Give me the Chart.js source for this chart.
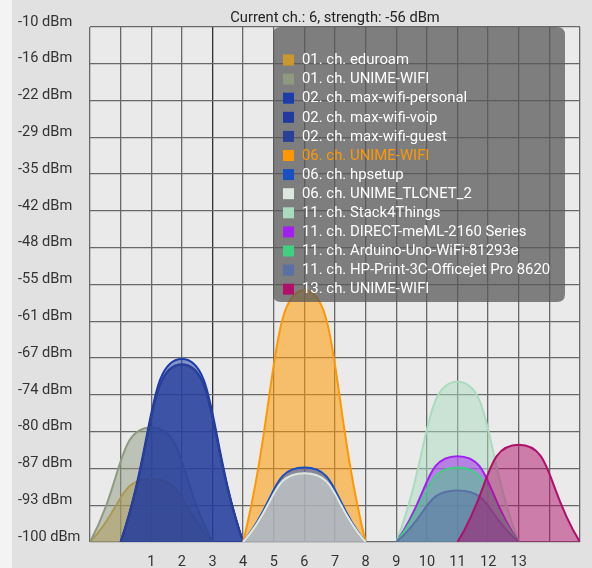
<!DOCTYPE html>
<html><head><meta charset="utf-8">
<script src="https://cdn.jsdelivr.net/npm/chart.js@4/dist/chart.umd.min.js"></script>
<style>html,body{margin:0;padding:0;background:#e2e2e2;overflow:hidden}canvas{display:block}</style>
</head><body>
<canvas id="c" width="592" height="568"></canvas>
<script>
const networkNames = [
  '01. ch. eduroam',
  '01. ch. UNIME-WIFI',
  '02. ch. max-wifi-personal',
  '02. ch. max-wifi-voip',
  '02. ch. max-wifi-guest',
  '06. ch. UNIME-WIFI',
  '06. ch. hpsetup',
  '06. ch. UNIME_TLCNET_2',
  '11. ch. Stack4Things',
  '11. ch. DIRECT-meML-2160 Series',
  '11. ch. Arduino-Uno-WiFi-81293e',
  '11. ch. HP-Print-3C-Officejet Pro 8620',
  '13. ch. UNIME-WIFI'
];
const networkChannels = [1, 1, 2, 2, 2, 6, 6, 6, 11, 11, 11, 11, 13];
const networkStrengths = [-89, -80, -68, -69, -69, -56, -87, -88, -72, -85, -87, -91, -83];
const networkColors = ['#c9972b', '#8d9a80', '#1c3caa', '#1f3aa0', '#2a3f98', '#ff9800',
  '#1a4fc4', '#dfe8df', '#a9dcbf', '#a21ff0', '#3fd080', '#5870a4', '#b0106a'];
const channelLabels = ['1','2','3','4','5','6','7','8','9','10','11','12','13'];
const yTickLabels = ['-100 dBm','-93 dBm','-87 dBm','-80 dBm','-74 dBm','-67 dBm','-61 dBm',
  '-55 dBm','-48 dBm','-42 dBm','-35 dBm','-29 dBm','-22 dBm','-16 dBm','-10 dBm'];
const currentIndex = 5;
const floorDbm = -100, ceilDbm = -10;
const chMin = -1, chMax = 15, spread = 2;

function alpha(hex, a) {
  const n = parseInt(hex.slice(1), 16);
  return `rgba(${n >> 16},${(n >> 8) & 255},${n & 255},${a})`;
}

const datasets = networkNames.map((name, i) => ({
  label: name,
  data: [
    { x: networkChannels[i] - spread, y: floorDbm },
    { x: networkChannels[i], y: networkStrengths[i] },
    { x: networkChannels[i] + spread, y: floorDbm }
  ],
  borderColor: networkColors[i],
  backgroundColor: alpha(networkColors[i], i === currentIndex ? 0.55 : 0.5),
  borderWidth: 2,
  pointRadius: 0,
  tension: 0.55,
  fill: 'start',
  order: -i
}));

const FONT = 'Roboto, "Noto Sans", sans-serif';

const bgPlugin = {
  id: 'bg',
  beforeDraw(chart) {
    const { ctx, chartArea: a } = chart;
    ctx.save();
    ctx.fillStyle = '#e1e1e1';
    ctx.fillRect(0, 0, chart.width, chart.height);
    ctx.fillStyle = '#f3f3f3';
    ctx.fillRect(0, 0, 12, chart.height);
    ctx.fillStyle = '#eaeaea';
    ctx.fillRect(a.left, a.top, a.right - a.left, a.bottom - a.top);
    ctx.restore();
  }
};

const overlayPlugin = {
  id: 'overlay',
  afterDatasetsDraw(chart) {
    const { ctx, chartArea: a } = chart;
    ctx.save();
    const bx = a.left + 183, by = a.top, bw = 292, bh = 275, r = 8;
    ctx.fillStyle = 'rgba(88,88,88,0.74)';
    ctx.beginPath();
    ctx.moveTo(bx + r, by);
    ctx.lineTo(bx + bw - r, by);
    ctx.quadraticCurveTo(bx + bw, by, bx + bw, by + r);
    ctx.lineTo(bx + bw, by + bh - r);
    ctx.quadraticCurveTo(bx + bw, by + bh, bx + bw - r, by + bh);
    ctx.lineTo(bx + r, by + bh);
    ctx.quadraticCurveTo(bx, by + bh, bx, by + bh - r);
    ctx.lineTo(bx, by + r);
    ctx.quadraticCurveTo(bx, by, bx + r, by);
    ctx.fill();
    ctx.font = '14.9px ' + FONT;
    ctx.textBaseline = 'middle';
    ctx.textAlign = 'left';
    chart.data.datasets.forEach((ds, i) => {
      const y = by + 33 + i * 19.1;
      ctx.fillStyle = ds.borderColor;
      ctx.fillRect(bx + 10, y - 5.5, 11, 11);
      ctx.fillStyle = i === currentIndex ? '#ff9800' : '#ffffff';
      ctx.fillText(ds.label, bx + 29, y + 0.5);
    });
    ctx.fillStyle = '#222';
    ctx.font = '14.7px ' + FONT;
    ctx.textAlign = 'center';
    ctx.textBaseline = 'middle';
    ctx.fillText(`Current ch.: ${networkChannels[currentIndex]}, strength: ${networkStrengths[currentIndex]} dBm`,
      (a.left + a.right) / 2, 18);
    ctx.restore();
  }
};

new Chart(document.getElementById('c'), {
  type: 'line',
  data: { datasets },
  options: {
    responsive: false,
    animation: false,
    devicePixelRatio: 1,
    layout: { padding: { left: 18, right: 10, top: 27, bottom: 0 } },
    plugins: { legend: { display: false }, tooltip: { enabled: false }, title: { display: false } },
    scales: {
      x: {
        type: 'linear',
        min: chMin, max: chMax,
        grid: { color: (c) => c.tick && c.tick.value === 3 ? '#303030' : '#686868', lineWidth: 1.3, drawTicks: false },
        border: { display: false },
        ticks: {
          stepSize: 1, autoSkip: false, maxRotation: 0, padding: 12,
          color: '#333', font: { family: FONT, size: 14.5 },
          callback: (v) => (v >= 1 && v <= channelLabels.length) ? channelLabels[v - 1] : ''
        },
        afterFit: (s) => { s.height = 26; }
      },
      y: {
        type: 'linear',
        min: floorDbm, max: ceilDbm,
        afterBuildTicks: (s) => {
          const n = yTickLabels.length;
          s.ticks = yTickLabels.map((_, i) => ({ value: floorDbm + i * (ceilDbm - floorDbm) / (n - 1) }));
        },
        grid: { color: '#686868', lineWidth: 1.3, drawTicks: false },
        border: { display: false },
        ticks: {
          crossAlign: 'far', labelOffset: -5, color: '#333', font: { family: FONT, size: 14.6 },
          callback: (v, i) => yTickLabels[i]
        },
        afterFit: (s) => { s.width = 72; }
      }
    }
  },
  plugins: [bgPlugin, overlayPlugin]
});
</script>
</body></html>
